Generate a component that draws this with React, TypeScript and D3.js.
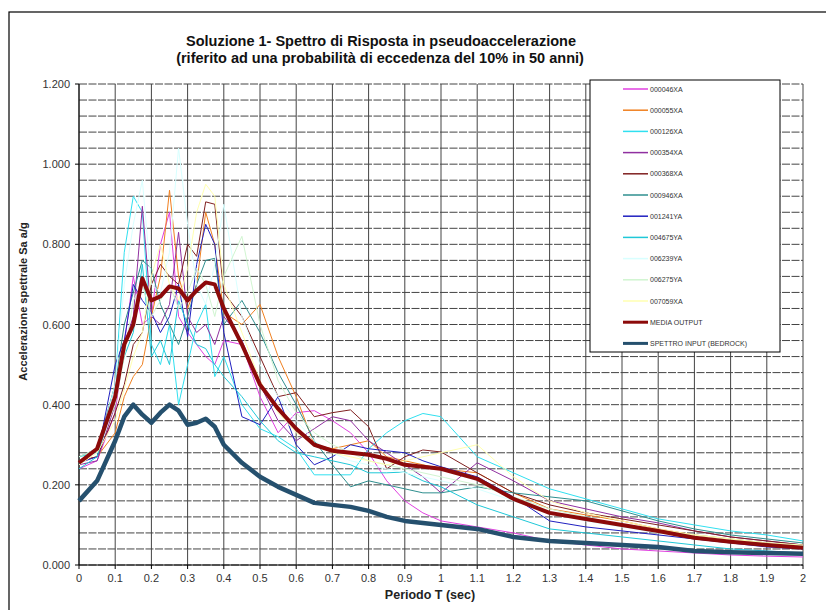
import React from 'react';
import * as d3 from 'd3';

// periods (sec) shared by every series
const periods = [0, 0.05, 0.1, 0.125, 0.15, 0.175, 0.2, 0.225, 0.25, 0.275, 0.3, 0.325, 0.35, 0.375, 0.4, 0.45, 0.5, 0.55, 0.6, 0.65, 0.7, 0.75, 0.8, 0.85, 0.9, 0.95, 1.0, 1.1, 1.2, 1.3, 1.4, 1.5, 1.6, 1.7, 1.8, 1.9, 2.0];

const rec000046XA = [0.24, 0.26, 0.38, 0.55, 0.72, 0.60, 0.62, 0.80, 0.88, 0.62, 0.58, 0.55, 0.52, 0.50, 0.56, 0.55, 0.42, 0.33, 0.38, 0.385, 0.36, 0.33, 0.28, 0.21, 0.16, 0.13, 0.11, 0.095, 0.08, 0.06, 0.05, 0.04, 0.035, 0.03, 0.025, 0.022, 0.02];
const rec000055XA = [0.26, 0.27, 0.33, 0.42, 0.47, 0.50, 0.62, 0.72, 0.935, 0.72, 0.64, 0.70, 0.88, 0.80, 0.63, 0.60, 0.65, 0.52, 0.42, 0.30, 0.29, 0.30, 0.31, 0.27, 0.26, 0.25, 0.24, 0.23, 0.18, 0.14, 0.125, 0.11, 0.09, 0.075, 0.065, 0.055, 0.048];
const rec000126XA = [0.27, 0.28, 0.45, 0.78, 0.92, 0.88, 0.55, 0.50, 0.60, 0.40, 0.50, 0.60, 0.65, 0.47, 0.52, 0.40, 0.34, 0.32, 0.29, 0.225, 0.225, 0.225, 0.29, 0.33, 0.36, 0.378, 0.37, 0.27, 0.23, 0.19, 0.165, 0.14, 0.115, 0.10, 0.085, 0.075, 0.06];
const rec000354XA = [0.25, 0.26, 0.40, 0.55, 0.62, 0.895, 0.62, 0.60, 0.65, 0.83, 0.62, 0.58, 0.60, 0.55, 0.62, 0.56, 0.45, 0.36, 0.31, 0.34, 0.37, 0.36, 0.31, 0.28, 0.25, 0.22, 0.18, 0.255, 0.21, 0.16, 0.14, 0.12, 0.105, 0.085, 0.07, 0.06, 0.05];
const rec000368XA = [0.26, 0.27, 0.38, 0.45, 0.55, 0.58, 0.70, 0.75, 0.72, 0.70, 0.80, 0.77, 0.906, 0.90, 0.68, 0.62, 0.52, 0.42, 0.43, 0.37, 0.38, 0.387, 0.345, 0.24, 0.27, 0.287, 0.282, 0.23, 0.18, 0.15, 0.13, 0.115, 0.10, 0.085, 0.07, 0.06, 0.05];
const rec000946XA = [0.27, 0.29, 0.45, 0.60, 0.68, 0.76, 0.74, 0.65, 0.60, 0.55, 0.62, 0.70, 0.76, 0.765, 0.60, 0.66, 0.58, 0.48, 0.40, 0.31, 0.25, 0.195, 0.21, 0.20, 0.19, 0.18, 0.18, 0.195, 0.18, 0.17, 0.16, 0.135, 0.11, 0.09, 0.075, 0.065, 0.055];
const rec001241YA = [0.255, 0.27, 0.50, 0.56, 0.70, 0.66, 0.63, 0.58, 0.62, 0.70, 0.57, 0.75, 0.85, 0.80, 0.58, 0.37, 0.35, 0.42, 0.30, 0.25, 0.27, 0.30, 0.29, 0.285, 0.28, 0.26, 0.245, 0.22, 0.17, 0.11, 0.095, 0.085, 0.075, 0.065, 0.055, 0.045, 0.04];
const rec004675YA = [0.24, 0.27, 0.42, 0.52, 0.58, 0.75, 0.52, 0.56, 0.50, 0.66, 0.60, 0.55, 0.54, 0.50, 0.47, 0.42, 0.36, 0.31, 0.28, 0.27, 0.26, 0.25, 0.23, 0.23, 0.232, 0.21, 0.195, 0.15, 0.12, 0.09, 0.08, 0.07, 0.06, 0.05, 0.04, 0.035, 0.03];
const rec006239YA = [0.26, 0.28, 0.45, 0.70, 0.85, 0.96, 0.70, 0.68, 0.78, 1.04, 0.85, 0.70, 0.65, 0.75, 0.90, 0.62, 0.50, 0.42, 0.36, 0.31, 0.28, 0.26, 0.25, 0.24, 0.23, 0.22, 0.21, 0.19, 0.16, 0.13, 0.11, 0.095, 0.08, 0.07, 0.06, 0.05, 0.045];
const rec006275YA = [0.27, 0.29, 0.40, 0.52, 0.66, 0.70, 0.62, 0.66, 0.70, 0.64, 0.68, 0.74, 0.70, 0.62, 0.72, 0.82, 0.60, 0.46, 0.38, 0.33, 0.30, 0.28, 0.26, 0.25, 0.24, 0.23, 0.22, 0.20, 0.17, 0.14, 0.12, 0.10, 0.085, 0.075, 0.065, 0.055, 0.048];
const rec007059XA = [0.25, 0.28, 0.36, 0.44, 0.52, 0.58, 0.72, 0.80, 0.70, 0.66, 0.74, 0.88, 0.95, 0.92, 0.70, 0.58, 0.46, 0.38, 0.33, 0.30, 0.28, 0.27, 0.26, 0.25, 0.26, 0.27, 0.28, 0.30, 0.22, 0.16, 0.13, 0.11, 0.09, 0.075, 0.065, 0.055, 0.05];
const mediaOutput = [0.255, 0.29, 0.42, 0.55, 0.60, 0.715, 0.66, 0.67, 0.695, 0.69, 0.66, 0.685, 0.705, 0.70, 0.64, 0.55, 0.45, 0.39, 0.34, 0.30, 0.285, 0.28, 0.275, 0.265, 0.25, 0.245, 0.24, 0.215, 0.165, 0.13, 0.115, 0.10, 0.085, 0.068, 0.058, 0.05, 0.043];
const spettroInput = [0.16, 0.21, 0.31, 0.37, 0.40, 0.375, 0.355, 0.38, 0.40, 0.385, 0.35, 0.355, 0.365, 0.345, 0.30, 0.255, 0.22, 0.195, 0.175, 0.155, 0.15, 0.145, 0.135, 0.12, 0.11, 0.105, 0.10, 0.09, 0.07, 0.06, 0.055, 0.05, 0.045, 0.035, 0.032, 0.03, 0.028];

const seriesNames = ['000046XA', '000055XA', '000126XA', '000354XA', '000368XA', '000946XA', '001241YA', '004675YA', '006239YA', '006275YA', '007059XA', 'MEDIA OUTPUT', 'SPETTRO INPUT (BEDROCK)'];
const seriesValues = [rec000046XA, rec000055XA, rec000126XA, rec000354XA, rec000368XA, rec000946XA, rec001241YA, rec004675YA, rec006239YA, rec006275YA, rec007059XA, mediaOutput, spettroInput];
const seriesColors = ['#e040e0', '#f08020', '#30e0f0', '#9030a0', '#802020', '#2f8f8f', '#2020c0', '#20c8d8', '#d8ffff', '#d0f5d0', '#ffffb0', '#8c0a0a', '#25506e'];
const seriesWidths = [1, 1, 1, 1, 1, 1, 1, 1, 1, 1, 1, 4, 4.5];

const xTicks = d3.range(0, 21).map(i => i / 10);
const yMajor = [0, 0.2, 0.4, 0.6, 0.8, 1.0, 1.2];
const yMinor = d3.range(0, 31).map(i => i * 0.04);

const font = '"Liberation Sans", Arial, sans-serif';

export default function App() {
  const x = d3.scaleLinear().domain([0, 2]).range([79, 803]);
  const y = d3.scaleLinear().domain([0, 1.2]).range([565, 84]);

  const line = d3.line<number>()
    .x((d, i) => x(periods[i]))
    .y(d => y(d));

  const legendX = 590, legendY = 80, legendW = 190, legendH = 272;
  const legendStep = 21.2;

  return (
    <svg width={826} height={610} style={{ position: 'absolute', left: 0, top: 0, background: '#fff' }}>
      <rect x={9} y={12} width={830} height={620} fill="#fff" stroke="#000" strokeWidth={1.2} />

      <text x={381} y={46} textAnchor="middle" fontFamily={font} fontWeight="bold" fontSize={14.5} fill="#111">
        Soluzione 1- Spettro di Risposta in pseudoaccelerazione
      </text>
      <text x={380} y={63} textAnchor="middle" fontFamily={font} fontWeight="bold" fontSize={14.5} fill="#111">
        (riferito ad una probabilità di eccedenza del 10% in 50 anni)
      </text>

      {/* grid */}
      {yMinor.map((v, i) => (
        <line key={'h' + i} x1={x(0)} x2={x(2)} y1={y(v)} y2={y(v)} stroke="#444" strokeWidth={1} strokeDasharray="8 1.5" />
      ))}
      {xTicks.map((t, i) => (
        <line key={'v' + i} x1={x(t)} x2={x(t)} y1={y(0)} y2={y(1.2)} stroke="#444" strokeWidth={1} />
      ))}

      {/* axes */}
      <line x1={x(0)} x2={x(0)} y1={y(0)} y2={y(1.2)} stroke="#000" strokeWidth={1} />
      <line x1={x(0)} x2={x(2)} y1={y(0)} y2={y(0)} stroke="#000" strokeWidth={1} />
      {yMajor.map((v, i) => (
        <g key={'yt' + i}>
          <line x1={x(0) - 4} x2={x(0)} y1={y(v)} y2={y(v)} stroke="#000" />
          <text x={x(0) - 9} y={y(v) + 4} textAnchor="end" fontFamily={font} fontSize={11} fill="#333">
            {v.toFixed(3)}
          </text>
        </g>
      ))}
      {xTicks.map((t, i) => (
        <g key={'xt' + i}>
          <line x1={x(t)} x2={x(t)} y1={y(0)} y2={y(0) + 4} stroke="#000" />
          <text x={x(t)} y={y(0) + 17} textAnchor="middle" fontFamily={font} fontSize={11} fill="#333">
            {String(Math.round(t * 10) / 10)}
          </text>
        </g>
      ))}

      <text x={430} y={599} textAnchor="middle" fontFamily={font} fontWeight="bold" fontSize={12.5} fill="#222">
        Periodo T (sec)
      </text>
      <text transform={`translate(27,${(218 + 385) / 2}) rotate(-90)`} textAnchor="middle" fontFamily={font} fontWeight="bold" fontSize={11} fill="#222">
        Accelerazione spettrale Sa a/g
      </text>

      {/* series */}
      {seriesValues.map((vals, i) => (
        <path key={'s' + i} d={line(vals) || ''} fill="none" stroke={seriesColors[i]} strokeWidth={seriesWidths[i]} strokeLinejoin="round" />
      ))}

      {/* legend */}
      <rect x={legendX} y={legendY} width={legendW} height={legendH} fill="#fff" stroke="#000" strokeWidth={1} />
      {seriesNames.map((name, i) => {
        const ly = 89 + i * legendStep;
        return (
          <g key={'l' + i}>
            <line x1={623} x2={648} y1={ly} y2={ly} stroke={seriesColors[i]} strokeWidth={i >= 11 ? 3 : 1.5} />
            <text x={650} y={ly + 2.5} fontFamily={font} fontSize={7} fill="#333">{name}</text>
          </g>
        );
      })}
    </svg>
  );
}
